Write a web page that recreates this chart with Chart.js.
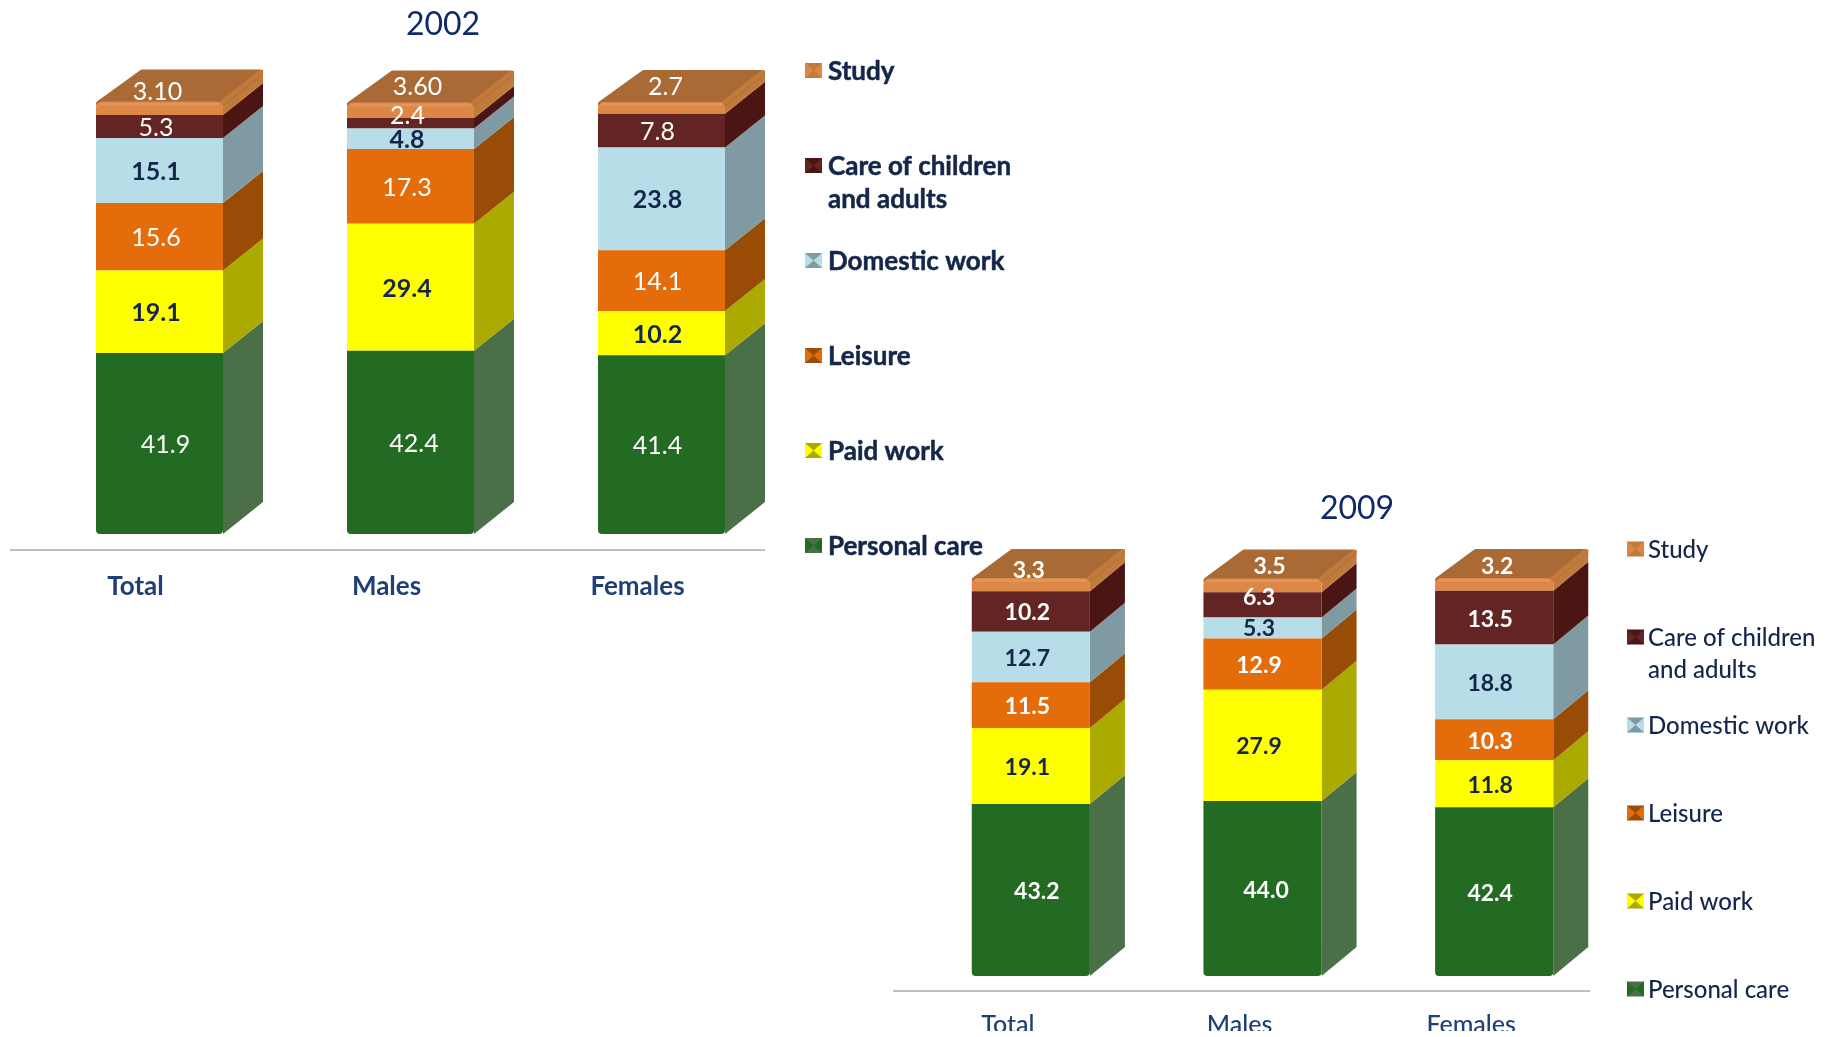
<!DOCTYPE html>
<html>
<head>
<meta charset="utf-8">
<title>Time use 2002 and 2009</title>
<script src="https://cdn.jsdelivr.net/npm/chart.js@4/dist/chart.umd.min.js"></script>
<style>
  html, body { margin: 0; background: #fff; }
  canvas { position: absolute; left: 0; top: 0; }
</style>
</head>
<body>
<canvas id="chart2002" width="1837" height="1037"></canvas>
<canvas id="chart2009" width="1837" height="1037"></canvas>
<script>
// values, bottom of the stack first
const categories = ['Total', 'Males', 'Females'];
const seriesNames = ['Personal care', 'Paid work', 'Leisure', 'Domestic work', 'Care of children and adults', 'Study'];

const personal2002 = [41.9, 42.4, 41.4];
const paid2002 = [19.1, 29.4, 10.2];
const leisure2002 = [15.6, 17.3, 14.1];
const domestic2002 = [15.1, 4.8, 23.8];
const care2002 = [5.3, 2.4, 7.8];
const study2002 = [3.1, 3.6, 2.7];

const personal2009 = [43.2, 44.0, 42.4];
const paid2009 = [19.1, 27.9, 11.8];
const leisure2009 = [11.5, 12.9, 10.3];
const domestic2009 = [12.7, 5.3, 18.8];
const care2009 = [10.2, 6.3, 13.5];
const study2009 = [3.3, 3.5, 3.2];

const studyText2002 = ['3.10', '3.60', '2.7'];

// colours per series
const frontColors = ['#236b22', '#ffff00', '#e46c0a', '#b7dde8', '#632523', '#dd8746'];
const sideColors = ['#4b7048', '#aaaa00', '#984c05', '#7f9aa3', '#4a1512', '#c07a3c'];
const textColors = ['#fff', '#14274a', '#fff', '#14274a', '#fff', '#fff'];
const topColor = '#a96a35';
const topEdge = '#c27a3c';

// how far each value label sits from the middle of its segment, [dx, dy] by category
const nudge2002 = [
  [[6, 1.5], [3.5, 2], [-4, 1.5]],
  [[-3.5, 1.5], [-3.5, 1.5], [-4, 1.5]],
  [[-3.5, 1.5], [-3.5, 1.5], [-4, 1.5]],
  [[-3.5, 1], [-3.5, 1], [-4, 1]],
  [[-3.5, 1], [-3, -7], [-4, 1]],
  [[-2, -16], [7, -23], [4, -21]]
];
const nudge2009 = [
  [[6, 2], [3.5, 2], [-4, 2]],
  [[-3.5, 2], [-3.5, 1.5], [-4, 2]],
  [[-3.5, 1.5], [-3.5, 1.5], [-4, 1.5]],
  [[-3.5, 1.5], [-3.5, 1], [-4, 1.5]],
  [[-3.5, 1.5], [-3.5, -7], [-4, 1.5]],
  [[-2, -14], [7, -19], [3, -18]]
];

// the little bevelled legend squares
function marker(ctx, x, y, w, h, front, side) {
  ctx.fillStyle = side;
  ctx.fillRect(x, y, w, h);
  const cx = x + w / 2, cy = y + h / 2;
  ctx.fillStyle = front;
  [[x, y, x, y + h], [x + w, y, x + w, y + h]].forEach(p => {
    ctx.beginPath();
    ctx.moveTo(p[0], p[1]);
    ctx.lineTo(p[2], p[3]);
    ctx.lineTo(cx, cy);
    ctx.closePath();
    ctx.fill();
  });
}

function facesPlugin(cfg) {
  return {
    id: 'faces',
    beforeDatasetsDraw(chart) {
      const ctx = chart.ctx;
      ctx.save();
      chart.data.datasets.forEach((ds, d) => {
        chart.getDatasetMeta(d).data.forEach(bar => {
          const right = bar.x + bar.width / 2;
          ctx.fillStyle = sideColors[d];
          ctx.beginPath();
          ctx.moveTo(right, bar.y);
          ctx.lineTo(right + cfg.dx, bar.y + cfg.dy);
          ctx.lineTo(right + cfg.dx, bar.base + cfg.dy);
          ctx.lineTo(right, bar.base);
          ctx.closePath();
          ctx.fill();
        });
      });
      // lid on the top segment
      const last = chart.data.datasets.length - 1;
      chart.getDatasetMeta(last).data.forEach(bar => {
        const left = bar.x - bar.width / 2, right = bar.x + bar.width / 2;
        ctx.fillStyle = topColor;
        ctx.strokeStyle = topColor;
        ctx.lineWidth = 6;
        ctx.lineJoin = 'round';
        ctx.beginPath();
        ctx.moveTo(left + 3, bar.y + 2);
        ctx.lineTo(left + cfg.dx + 6, bar.y + cfg.dy + 3);
        ctx.lineTo(right + cfg.dx - 3, bar.y + cfg.dy + 3);
        ctx.lineTo(right - 2, bar.y + 2);
        ctx.closePath();
        ctx.fill();
        ctx.stroke();
        // lighter band down the right edge of the lid
        ctx.strokeStyle = topEdge;
        ctx.lineWidth = 5;
        ctx.lineCap = 'round';
        ctx.beginPath();
        ctx.moveTo(right - 1, bar.y + 1);
        ctx.lineTo(right + cfg.dx - 3, bar.y + cfg.dy + 3);
        ctx.stroke();
      });
      ctx.restore();
    },
    afterDatasetsDraw(chart) {
      const ctx = chart.ctx;
      ctx.save();
      // highlight along the top of the front face
      chart.getDatasetMeta(5).data.forEach(bar => {
        ctx.fillStyle = 'rgba(255,255,255,0.12)';
        ctx.fillRect(bar.x - bar.width / 2 + 3, bar.y + 1, bar.width - 6, 3);
      });

      // axis line, it runs a bit left of the plot area
      const lineY = chart.scales.y.getPixelForValue(chart.scales.y.min);
      ctx.strokeStyle = '#bfbfbf';
      ctx.lineWidth = 2;
      ctx.beginPath();
      ctx.moveTo(cfg.lineFrom, lineY);
      ctx.lineTo(cfg.lineTo, lineY);
      ctx.stroke();

      // value labels
      ctx.textAlign = 'center';
      ctx.textBaseline = 'middle';
      chart.data.datasets.forEach((ds, d) => {
        chart.getDatasetMeta(d).data.forEach((bar, i) => {
          const dark = textColors[d] !== '#fff';
          ctx.font = (dark || cfg.boldLabels ? 'bold ' : '') + cfg.labelSize + 'px Lato';
          ctx.fillStyle = textColors[d];
          const text = cfg.studyText && d === 5 ? cfg.studyText[i] : ds.data[i].toFixed(1);
          const n = cfg.nudge[d][i];
          ctx.fillText(text, bar.x + n[0], (bar.y + bar.base) / 2 + n[1]);
        });
      });

      // title
      ctx.font = '32px Lato';
      ctx.fillStyle = '#10296b';
      ctx.fillText(cfg.title, cfg.titleX, cfg.titleY);

      // legend, top of the stack first
      ctx.textAlign = 'left';
      ctx.font = cfg.legendFont;
      ctx.lineJoin = 'round';
      const legendText = (s, y) => {
        ctx.fillStyle = '#14274a';
        ctx.fillText(s, cfg.legendX, y);
        if (cfg.legendStroke) {
          ctx.strokeStyle = '#14274a';
          ctx.lineWidth = cfg.legendStroke;
          ctx.strokeText(s, cfg.legendX, y);
        }
      };
      for (let d = 5; d >= 0; d--) {
        const y = cfg.legendY + (5 - d) * cfg.legendStep;
        marker(ctx, cfg.markX, y - 8, 17, 15, frontColors[d], sideColors[d]);
        if (d === 4) {
          legendText('Care of children', y + 1);
          legendText('and adults', y + 1 + cfg.wrapGap);
        } else {
          legendText(seriesNames[d], y + 1);
        }
      }
      ctx.restore();
    }
  };
}

function makeChart(id, series, cfg) {
  return new Chart(document.getElementById(id).getContext('2d'), {
    type: 'bar',
    data: {
      labels: categories,
      datasets: series.map((values, d) => ({
        label: seriesNames[d],
        data: values,
        backgroundColor: frontColors[d],
        borderWidth: 0,
        borderSkipped: false,
        borderRadius: d === 0 ? { bottomLeft: 4, bottomRight: 4 } : d === 5 ? { topLeft: 6, topRight: 6 } : 0,
        barPercentage: 1,
        categoryPercentage: cfg.barShare
      }))
    },
    options: {
      responsive: false,
      animation: false,
      layout: { padding: cfg.padding },
      plugins: { legend: { display: false }, title: { display: false }, tooltip: { enabled: false } },
      scales: {
        x: {
          stacked: true,
          grid: { display: false, drawTicks: false },
          border: { display: false },
          afterFit: s => { s.height = cfg.axisHeight; },
          ticks: {
            color: '#1f3f77',
            font: cfg.tickFont,
            padding: cfg.tickPad,
            labelOffset: cfg.tickOffset,
            maxRotation: 0,
            autoSkip: false
          }
        },
        y: { stacked: true, display: false, min: cfg.yMin, max: cfg.yMax }
      }
    },
    plugins: [facesPlugin(cfg)]
  });
}

makeChart('chart2002', [personal2002, paid2002, leisure2002, domestic2002, care2002, study2002], {
  title: '2002', titleX: 443, titleY: 25,
  padding: { left: 34, right: 1050, top: 40, bottom: 417 },
  axisHeight: 70, tickPad: 21, tickOffset: -24,
  tickFont: { family: 'Lato', size: 26, weight: 'bold' },
  barShare: 0.506, yMin: -3.7, yMax: 114.36,
  dx: 40, dy: -32, lineFrom: 10, lineTo: 765,
  labelSize: 25, boldLabels: false, nudge: nudge2002, studyText: studyText2002,
  legendFont: 'bold 26px Lato', legendStroke: 0.5, legendX: 828, markX: 805, legendY: 71, legendStep: 95, wrapGap: 33
});

makeChart('chart2009', [personal2009, paid2009, leisure2009, domestic2009, care2009, study2009], {
  title: '2009', titleX: 1357, titleY: 509,
  padding: { left: 915, right: 227, top: 500, bottom: 6 },
  axisHeight: 40, tickPad: 19, tickOffset: -23,
  tickFont: { family: 'Lato', size: 25, weight: '500' },
  barShare: 0.51, yMin: -3.77, yMax: 119.6,
  dx: 35, dy: -29, lineFrom: 893, lineTo: 1590,
  labelSize: 23, boldLabels: true, nudge: nudge2009, studyText: null,
  legendFont: '500 24px Lato', legendStroke: 0, legendX: 1648, markX: 1627, legendY: 549.5, legendStep: 88, wrapGap: 32
});
</script>
</body>
</html>
